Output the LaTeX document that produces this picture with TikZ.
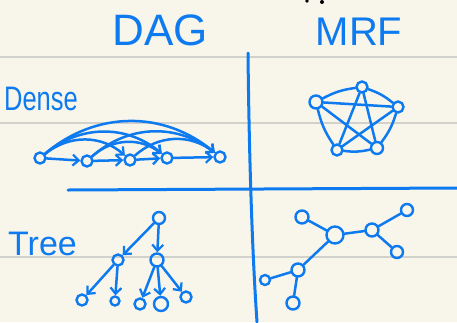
\documentclass[tikz,border=0pt]{standalone}
\usepackage{fontspec}
\setmainfont{Liberation Sans}
\usetikzlibrary{arrows.meta}
\definecolor{ink}{RGB}{14,122,240}
\definecolor{paper}{RGB}{248,246,234}
\definecolor{ruling}{RGB}{210,210,205}

\begin{document}
\begin{tikzpicture}[
  x=1pt, y=-1pt,
  vtx/.style={draw=ink, line width=2.4pt, circle, inner sep=0pt, minimum size=11pt},
  link/.style={draw=ink, line width=2.5pt, line cap=round},
  arr/.style={link, -{Straight Barb[length=6pt, width=11pt, line width=2.2pt]}},
  hand/.style={text=ink, inner sep=0pt}
]
  % paper and ruling
  \fill[paper] (0,0) rectangle (457,322);
  \useasboundingbox (0,0) rectangle (457,322);
  \foreach \y in {57,123,257}
    \draw[ruling, line width=1.2pt] (0,\y) -- (457,\y);
  \fill[black] (307,1) circle (1.8pt) (322,2) circle (2pt);

  % headings
  \node[hand, font=\fontsize{44}{44}\selectfont] (dag) at (160,30) {DAG};
  \node[hand, font=\fontsize{40}{40}\selectfont] (mrf) at (359,32) {MRF};
  \node[hand, font=\fontsize{34}{34}\selectfont, xscale=.75, anchor=west] (dense) at (4,99) {Dense};
  \node[hand, font=\fontsize{34}{34}\selectfont, anchor=west] (tree) at (8,244) {Tree};

  % dividers
  \draw[ink, line width=3pt, line cap=round] (248,53) .. controls (249,150) and (252,250) .. (257,322);
  \draw[ink, line width=3pt, line cap=round] (68,190) -- (457,188);

  % dense DAG
  \node[vtx] (d1) at (40,158) {};
  \node[vtx] (d2) at (87,161) {};
  \node[vtx] (d3) at (130,160) {};
  \node[vtx] (d4) at (167,158) {};
  \node[vtx] (d5) at (220,157) {};
  \foreach \a/\b in {d1/d2,d2/d3,d3/d4,d4/d5}
    \draw[arr] (\a) -- (\b);
  \foreach \a/\b in {d1/d3,d1/d4,d1/d5,d2/d4,d2/d5,d3/d5}
    \draw[arr] (\a) to[bend left=40] (\b);

  % dense MRF
  \node[vtx] (m1) at (362,87) {};
  \node[vtx, minimum size=13pt] (m2) at (316,102) {};
  \node[vtx] (m3) at (398,107) {};
  \node[vtx] (m4) at (337,150) {};
  \node[vtx, minimum size=12pt] (m5) at (377,148) {};
  \foreach \a/\b in {m1/m4,m1/m5,m2/m3,m2/m5,m3/m4}
    \draw[link] (\a) -- (\b);
  \foreach \a/\b in {m2/m1,m1/m3,m3/m5,m5/m4,m4/m2}
    \draw[link] (\a) to[bend left=10] (\b);

  % tree DAG
  \node[vtx, minimum size=12pt] (r) at (159,218) {};
  \node[vtx] (r1) at (118,260) {};
  \node[vtx, minimum size=13pt] (r2) at (157,260) {};
  \node[vtx] (g1) at (82,300) {};
  \node[vtx, minimum size=9pt] (g2) at (115,301) {};
  \node[vtx] (g3) at (140,304) {};
  \node[vtx, minimum size=14pt] (g4) at (161,304) {};
  \node[vtx] (g5) at (186,297) {};
  \foreach \a/\b in {r/r1,r/r2,r1/g1,r1/g2,r2/g3,r2/g4,r2/g5}
    \draw[arr] (\a) -- (\b);

  % tree MRF
  \node[vtx, minimum size=13pt] (t1) at (302,217) {};
  \node[vtx, minimum size=17pt] (t2) at (335,235) {};
  \node[vtx, minimum size=13pt] (t3) at (372,230) {};
  \node[vtx, minimum size=12pt] (t4) at (407,210) {};
  \node[vtx, minimum size=12pt] (t5) at (397,252) {};
  \node[vtx, minimum size=13pt] (t6) at (298,270) {};
  \node[vtx, minimum size=10pt] (t7) at (265,280) {};
  \node[vtx, minimum size=13pt] (t8) at (293,303) {};
  \foreach \a/\b in {t1/t2,t2/t3,t3/t4,t3/t5,t2/t6,t6/t7,t6/t8}
    \draw[link] (\a) -- (\b);
\end{tikzpicture}
\end{document}
